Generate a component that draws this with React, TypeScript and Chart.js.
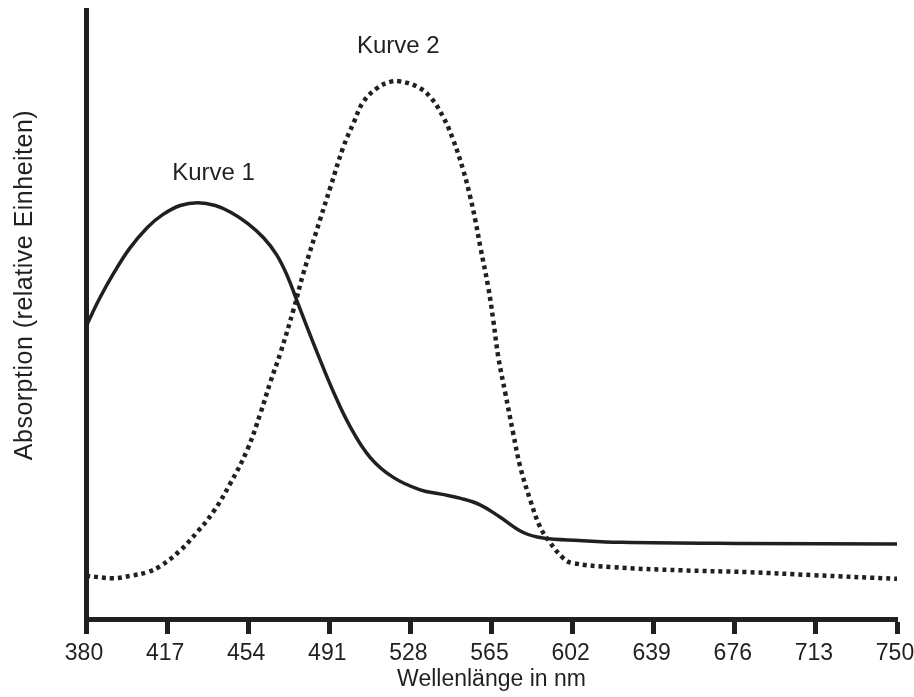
import React, { useEffect, useRef } from "react";
import { Chart, registerables } from "chart.js";

Chart.register(...registerables);

const INK = "#231f20";
const FONT = "'Liberation Sans', Arial, Helvetica, sans-serif";

const xTickValues = [380, 417, 454, 491, 528, 565, 602, 639, 676, 713, 750];

const curve1Wavelengths = [380, 386, 392.5, 400, 408, 415, 423, 431, 439, 446, 454, 461, 467, 472, 476.5, 481, 485.5, 493, 500.5, 509.5, 520, 532.5, 542, 551, 560, 569, 579.5, 588.5, 605, 624, 680, 750];
const curve1Absorption = [48, 52.5, 56.7, 60.9, 64.3, 66.4, 67.9, 68.35, 67.9, 66.8, 64.9, 62.6, 59.8, 56.2, 52.0, 47.8, 43.7, 37.2, 31.6, 26.6, 23.3, 21.2, 20.5, 19.8, 18.7, 16.7, 14.2, 13.3, 12.9, 12.6, 12.4, 12.3];

const curve2Wavelengths = [380, 392.5, 400.3, 408, 414, 423.1, 430.8, 438.1, 445.9, 453.6, 459.6, 464.1, 468.7, 474.6, 479.2, 486.9, 491.5, 497.4, 502, 506.5, 512.9, 518.8, 522.9, 531.1, 537.1, 543, 547.5, 552.1, 555.3, 557.6, 559.9, 563.5, 565.8, 568.1, 571.3, 574.9, 578.1, 582.7, 587.2, 591.8, 597.7, 601.8, 620.5, 651, 681.6, 711.7, 750];
const curve2Absorption = [7.1, 6.7, 7.1, 7.7, 8.7, 11.3, 14.3, 17.6, 22.3, 27.8, 33.8, 38.9, 43.7, 50.7, 56.8, 65.7, 70.9, 77.5, 81.4, 84.9, 87.2, 88.2, 88.3, 87.4, 85.7, 82.4, 78.7, 73.7, 69.3, 65.5, 61.1, 54.5, 49.1, 43.0, 37.1, 30.5, 25.0, 19.5, 15.1, 12.5, 10.0, 9.2, 8.5, 8.0, 7.7, 7.2, 6.6];

const curveLabelTexts = ["Kurve 1", "Kurve 2"];
const curveLabelX = [438.2, 522.5];
const curveLabelY = [73.2, 94.1];

const xTitle = "Wellenlänge in nm";
const yTitle = "Absorption (relative Einheiten)";

export default function App() {
  const ref = useRef<HTMLCanvasElement>(null);

  useEffect(() => {
    if (!ref.current) return;

    const labelPlugin = {
      id: "curveLabels",
      afterDraw(chart: any) {
        const { ctx } = chart;
        const xs = chart.scales.x;
        const ys = chart.scales.y;
        ctx.save();
        ctx.fillStyle = INK;
        ctx.font = `24px ${FONT}`;
        ctx.textAlign = "center";
        ctx.textBaseline = "middle";
        curveLabelTexts.forEach((t, i) => {
          ctx.fillText(t, xs.getPixelForValue(curveLabelX[i]), ys.getPixelForValue(curveLabelY[i]));
        });
        ctx.translate(25, 285);
        ctx.rotate(-Math.PI / 2);
        ctx.font = `25px ${FONT}`;
        try {
          (ctx as any).letterSpacing = "0.5px";
        } catch (e) {}
        ctx.fillText(yTitle, 0, 0);
        ctx.restore();
      },
    };

    const chart = new Chart(ref.current, {
      type: "line",
      data: {
        datasets: [
          {
            label: "Kurve 2",
            data: curve2Wavelengths.map((x, i) => ({ x, y: curve2Absorption[i] })),
            borderColor: INK,
            borderWidth: 4.5,
            borderDash: [4, 4],
            borderCapStyle: "butt",
            pointRadius: 0,
            tension: 0.4,
            fill: false,
          },
          {
            label: "Kurve 1",
            data: curve1Wavelengths.map((x, i) => ({ x, y: curve1Absorption[i] })),
            borderColor: INK,
            borderWidth: 3.5,
            pointRadius: 0,
            tension: 0.4,
            fill: false,
          },
        ],
      },
      options: {
        responsive: false,
        animation: false,
        layout: { padding: { top: 10, right: 17, left: 0, bottom: 0 } },
        plugins: {
          legend: { display: false },
          tooltip: { enabled: false },
        },
        scales: {
          x: {
            type: "linear",
            min: 380,
            max: 750,
            afterBuildTicks: (s: any) => {
              s.ticks = xTickValues.map((v) => ({ value: v }));
            },
            afterFit: (s: any) => {
              s.height = 78;
              s.paddingLeft = 0;
              s.paddingRight = 0;
            },
            border: { display: true, width: 5, color: INK },
            grid: {
              display: true,
              drawOnChartArea: false,
              drawTicks: true,
              tickLength: 15,
              tickWidth: 5,
              tickColor: INK,
              color: INK,
            },
            ticks: {
              color: INK,
              font: { size: 23, family: FONT },
              padding: 6,
              labelOffset: -2,
              maxRotation: 0,
              autoSkip: false,
              callback: (v: any) => String(v),
            },
            title: {
              display: true,
              text: xTitle,
              color: INK,
              font: { size: 23, family: FONT },
              padding: { top: 0, bottom: 4 },
            },
          },
          y: {
            type: "linear",
            min: 0,
            max: 100,
            afterFit: (s: any) => {
              s.width = 86;
              s.paddingTop = 0;
              s.paddingBottom = 0;
            },
            border: { display: true, width: 5, color: INK },
            grid: { display: false },
            ticks: { display: false },
          },
        },
      },
      plugins: [labelPlugin],
    });

    return () => chart.destroy();
  }, []);

  return (
    <div style={{ position: "fixed", left: 0, top: 0, width: 914, height: 697, background: "#fff" }}>
      <canvas ref={ref} width={914} height={697} style={{ display: "block" }} />
    </div>
  );
}
